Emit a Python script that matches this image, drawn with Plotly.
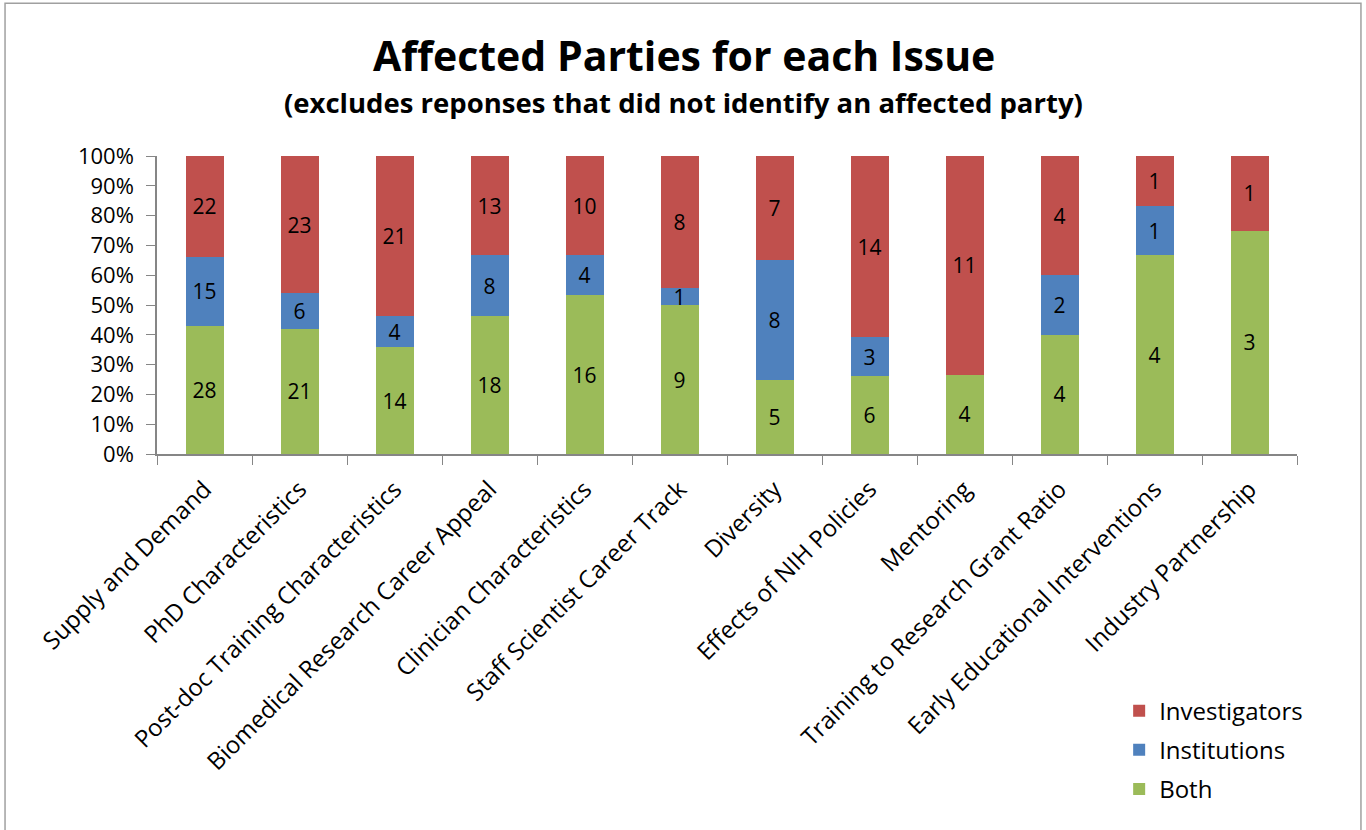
import plotly.graph_objects as go

categories = ["Supply and Demand", "PhD Characteristics", "Post-doc Training Characteristics",
              "Biomedical Research Career Appeal", "Clinician Characteristics",
              "Staff Scientist Career Track", "Diversity", "Effects of NIH Policies",
              "Mentoring", "Training to Research Grant Ratio",
              "Early Educational Interventions", "Industry Partnership"]
both = [28, 21, 14, 18, 16, 9, 5, 6, 4, 4, 4, 3]
institutions = [15, 6, 4, 8, 4, 1, 8, 3, 0, 2, 1, 0]
investigators = [22, 23, 21, 13, 10, 8, 7, 14, 11, 4, 1, 1]
y_ticks = [0, 10, 20, 30, 40, 50, 60, 70, 80, 90, 100]
y_tick_labels = [f"{v}%" for v in y_ticks]

FONT = "Open Sans"
series = [("Both", both, "#9BBB59", 3), ("Institutions", institutions, "#4F81BD", 2),
          ("Investigators", investigators, "#C0504D", 1)]

fig = go.Figure()
for name, vals, color, rank in series:
    fig.add_trace(go.Bar(
        name=name, x=categories, y=vals, marker_color=color, marker_line_width=0,
        legendgroup=name, legendrank=rank,
        text=[str(v) if v else "" for v in vals], textposition="inside",
        insidetextanchor="middle", textangle=0,
        textfont=dict(family=FONT, size=21, color="black"),
    ))

fig.update_layout(
    barmode="stack", barnorm="percent", bargap=0.6,
    width=1366, height=830,
    margin=dict(l=157, r=69, t=156, b=376),
    paper_bgcolor="white", plot_bgcolor="white",
    font=dict(family=FONT, color="black"),
    uniformtext=dict(minsize=21, mode="show"),
    legend=dict(traceorder="grouped", x=0.844, y=-0.787, xanchor="left", yanchor="top",
                font=dict(family=FONT, size=24, color="black"), itemwidth=30,
                tracegroupgap=5),
    showlegend=True,
)
fig.update_yaxes(range=[0, 100], tickvals=y_ticks, ticktext=y_tick_labels, showgrid=False,
                 showline=True, linecolor="#868686", linewidth=1.5,
                 ticks="outside", ticklen=9, tickcolor="#868686", ticklabelstandoff=8,
                 tickfont=dict(family=FONT, size=22, color="black"), zeroline=False)
fig.update_xaxes(showgrid=False, showline=True, linecolor="#868686", linewidth=1.5,
                 ticks="outside", ticklen=9, tickcolor="#868686", tickson="boundaries",
                 ticklabelstandoff=10,
                 tickangle=-45, tickfont=dict(family=FONT, size=24, color="black"))

fig.add_annotation(text="<b>Affected Parties for each Issue</b>", xref="paper", yref="paper",
                   x=0.462, y=1.34, xanchor="center", yanchor="middle", showarrow=False,
                   font=dict(family=FONT, size=41, color="black"))
fig.add_annotation(text="<b>(excludes reponses that did not identify an affected party)</b>",
                   xref="paper", yref="paper", x=0.462, y=1.18, xanchor="center",
                   yanchor="middle", showarrow=False,
                   font=dict(family=FONT, size=27.5, color="black"))
fig.add_shape(type="rect", xref="paper", yref="paper", x0=-0.1333, x1=1.0561,
              y0=-1.29, y1=1.513, line=dict(color="#A0A0A0", width=1.5))

fig.write_html("out.html")
